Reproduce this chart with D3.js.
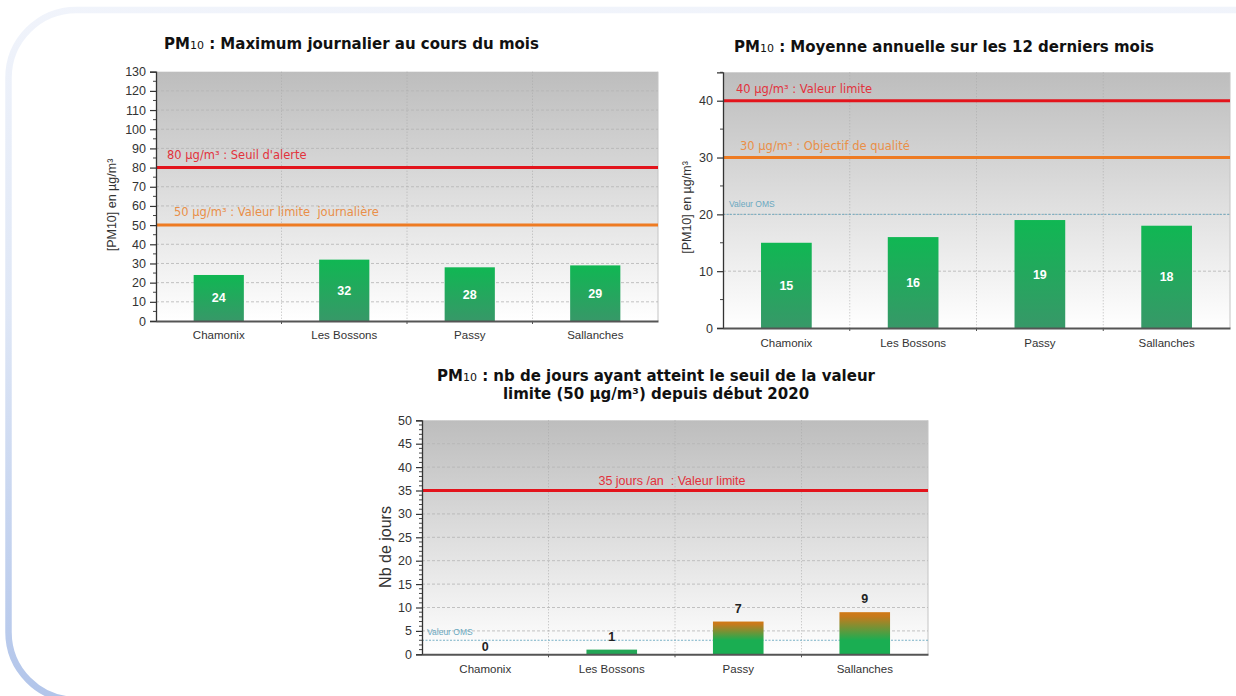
<!DOCTYPE html>
<html>
<head>
<meta charset="utf-8">
<script src="https://cdn.jsdelivr.net/npm/d3@7"></script>
<style>
  body { margin: 0; background: #ffffff; }
  svg { display: block; }
</style>
</head>
<body>
<svg id="board" width="1236" height="696"></svg>
<script>
// ---- data ----
const sites = ["Chamonix", "Les Bossons", "Passy", "Sallanches"];

// Daily maximum over the month (µg/m³)
const dailyMax = [24, 32, 28, 29];
const dailyTicks = d3.range(0, 131, 10);
const dailyRefValues = [80, 50];
const dailyRefLabels = ["80 µg/m³ : Seuil d'alerte", "50 µg/m³ : Valeur limite  journalière"];

// Annual mean over the last 12 months (µg/m³)
const annualMean = [15, 16, 19, 18];
const annualTicks = [0, 10, 20, 30, 40];
const annualRefValues = [40, 30];
const annualRefLabels = ["40 µg/m³ : Valeur limite", "30 µg/m³ : Objectif de qualité"];
const annualWho = 20;

// Days above the daily limit since the start of 2020
const daysOver = [0, 1, 7, 9];
const daysTicks = d3.range(0, 51, 5);
const daysRefValues = [35];
const daysRefLabels = ["35 jours /an  : Valeur limite"];
const daysWho = 3;

const whoLabel = "Valeur OMS";

// ---- drawing ----
const svg = d3.select("#board");
const defs = svg.append("defs");

// rounded frame around the page
const frameGrad = defs.append("linearGradient")
  .attr("id", "frameGrad").attr("gradientUnits", "userSpaceOnUse")
  .attr("x1", 0).attr("y1", 0).attr("x2", 0).attr("y2", 696);
frameGrad.append("stop").attr("offset", 0).attr("stop-color", "#f1f4fb");
frameGrad.append("stop").attr("offset", 0.45).attr("stop-color", "#dfe7f6");
frameGrad.append("stop").attr("offset", 1).attr("stop-color", "#b2c5ea");
svg.append("rect")
  .attr("x", 8.5).attr("y", 10).attr("width", 1320).attr("height", 690)
  .attr("rx", 68).attr("ry", 68)
  .attr("fill", "none").attr("stroke", "url(#frameGrad)").attr("stroke-width", 6.5);

// plot background and bar fills
const bgGrad = defs.append("linearGradient")
  .attr("id", "plotBg").attr("x1", 0).attr("y1", 0).attr("x2", 0).attr("y2", 1);
bgGrad.append("stop").attr("offset", 0).attr("stop-color", "#bdbdbd");
bgGrad.append("stop").attr("offset", 1).attr("stop-color", "#ffffff");

const barGrad = defs.append("linearGradient")
  .attr("id", "barGreen").attr("x1", 0).attr("y1", 0).attr("x2", 0).attr("y2", 1);
barGrad.append("stop").attr("offset", 0).attr("stop-color", "#10b753");
barGrad.append("stop").attr("offset", 1).attr("stop-color", "#379868");

const RED = "#e3141c", ORANGE = "#ee7b22";
const RED_TXT = "#e2323c", ORANGE_TXT = "#e98f48", WHO = "#6aa8bf";
const GREEN = "#1aae52", BROWN = "#d27a16";

function drawTitle(lines, x, y, anchor) {
  lines.forEach((ln, i) => {
    const t = svg.append("text")
      .attr("x", x).attr("y", y + i * 18)
      .attr("text-anchor", anchor)
      .attr("font-family", "DejaVu Sans, Verdana, sans-serif")
      .attr("font-weight", "bold").attr("font-size", 15).attr("fill", "#111");
    if (ln.startsWith("PM10")) {
      t.append("tspan").text("PM");
      t.append("tspan").attr("font-size", 11).attr("font-weight", "normal").text("10");
      t.append("tspan").text(ln.slice(4));
    } else {
      t.text(ln);
    }
  });
}

function drawPanel(cfg) {
  const { left, right, top, bottom } = cfg;
  const g = svg.append("g");
  const x = d3.scaleBand().domain(sites).range([left, right]).paddingInner(0.6).paddingOuter(0.3);
  const y = d3.scaleLinear().domain([0, cfg.yMax]).range([bottom, top]);
  const step = x.step();

  // background
  g.append("rect").attr("x", left).attr("y", top)
    .attr("width", right - left).attr("height", bottom - top)
    .attr("fill", "url(#plotBg)");
  g.append("line").attr("x1", right).attr("x2", right).attr("y1", top).attr("y2", bottom)
    .attr("stroke", "#c4c4c4").attr("stroke-width", 1);

  // horizontal grid
  g.append("g").selectAll("line").data(cfg.ticks.filter(d => d > 0 && d < cfg.yMax)).join("line")
    .attr("x1", left).attr("x2", right)
    .attr("y1", d => y(d)).attr("y2", d => y(d))
    .attr("stroke", "#b4b4b4").attr("stroke-width", 0.8).attr("stroke-dasharray", "3,2");

  // vertical separators between stations
  const seps = d3.range(1, sites.length).map(i => left + i * step);
  g.append("g").selectAll("line").data(seps).join("line")
    .attr("x1", d => d).attr("x2", d => d).attr("y1", top).attr("y2", bottom)
    .attr("stroke", "#a9a9a9").attr("stroke-width", 0.8).attr("stroke-dasharray", "1,2");

  // WHO guideline
  if (cfg.who !== undefined) {
    g.append("line").attr("x1", left).attr("x2", right)
      .attr("y1", y(cfg.who)).attr("y2", y(cfg.who))
      .attr("stroke", WHO).attr("stroke-width", 0.9).attr("stroke-dasharray", "2,1.5");
    g.append("text").attr("x", left + cfg.whoDx).attr("y", y(cfg.who) - cfg.whoDy)
      .attr("font-family", "Liberation Sans, Arial, sans-serif").attr("font-size", 8.5)
      .attr("fill", WHO).text(whoLabel);
  }

  // bars
  const bars = g.append("g");
  cfg.values.forEach((v, i) => {
    let fill = "url(#barGreen)";
    if (cfg.dayStyle) {
      if (v > cfg.who) {
        const id = "dayGrad" + i;
        const gr = defs.append("linearGradient").attr("id", id)
          .attr("gradientUnits", "userSpaceOnUse")
          .attr("x1", 0).attr("x2", 0).attr("y1", y(v)).attr("y2", y(cfg.who));
        gr.append("stop").attr("offset", 0).attr("stop-color", BROWN);
        gr.append("stop").attr("offset", 0.15).attr("stop-color", "#c67a1c");
        gr.append("stop").attr("offset", 1).attr("stop-color", GREEN);
        fill = "url(#" + id + ")";
      } else {
        fill = "#23a656";
      }
    }
    if (v > 0) {
      bars.append("rect")
        .attr("x", x(sites[i])).attr("width", x.bandwidth())
        .attr("y", y(v)).attr("height", y(0) - y(v))
        .attr("fill", fill);
    }
    if (cfg.dayStyle) {
      bars.append("text")
        .attr("x", x(sites[i]) + x.bandwidth() / 2)
        .attr("y", v > 0 ? y(v) - 9 : y(v) - 3)
        .attr("text-anchor", "middle")
        .attr("font-family", "Liberation Sans, Arial, sans-serif")
        .attr("font-weight", "bold").attr("font-size", 12.5).attr("fill", "#222")
        .text(v);
    } else {
      bars.append("text")
        .attr("x", x(sites[i]) + x.bandwidth() / 2)
        .attr("y", (y(v) + y(0)) / 2 + 4.5)
        .attr("text-anchor", "middle")
        .attr("font-family", "Liberation Sans, Arial, sans-serif")
        .attr("font-weight", "bold").attr("font-size", 12.5).attr("fill", "#ffffff")
        .text(v);
    }
  });

  // reference lines
  cfg.refValues.forEach((rv, i) => {
    const col = cfg.refColors[i];
    g.append("line").attr("x1", left).attr("x2", right)
      .attr("y1", y(rv)).attr("y2", y(rv))
      .attr("stroke", col).attr("stroke-width", 3);
    const lab = g.append("text")
      .attr("y", y(rv) - cfg.refDy[i])
      .attr("font-family", cfg.refFont)
      .attr("font-size", cfg.refSize)
      .attr("fill", cfg.refTextColors[i])
      .style("white-space", "pre")
      .text(cfg.refLabels[i]);
    if (cfg.refCentered) lab.attr("x", cfg.refX[i]).attr("text-anchor", "middle");
    else lab.attr("x", left + cfg.refX[i]);
  });

  // y axis
  const minor = d3.range(0, cfg.yMax + 1e-9, cfg.minorStep).filter(d => !cfg.ticks.includes(d));
  g.append("g").selectAll("line").data(minor).join("line")
    .attr("x1", left - 3).attr("x2", left)
    .attr("y1", d => y(d)).attr("y2", d => y(d))
    .attr("stroke", "#444").attr("stroke-width", 1);
  const ya = d3.axisLeft(y).tickValues(cfg.ticks).tickSize(6).tickPadding(4);
  const yg = g.append("g").attr("transform", `translate(${left},0)`).call(ya);
  yg.select(".domain").attr("stroke", "#333").attr("stroke-width", 1.3);
  yg.selectAll(".tick line").attr("stroke", "#333").attr("stroke-width", 1.2);
  yg.selectAll(".tick text")
    .attr("font-family", "Liberation Sans, Arial, sans-serif")
    .attr("font-size", 12.5).attr("fill", "#333");

  // x axis
  const xa = d3.axisBottom(x).tickSize(0).tickPadding(cfg.xPad);
  const xg = g.append("g").attr("transform", `translate(0,${bottom})`).call(xa);
  xg.select(".domain").attr("stroke", "#555").attr("stroke-width", 2);
  xg.selectAll(".tick text")
    .attr("font-family", "Liberation Sans, Arial, sans-serif")
    .attr("font-size", 11.5).attr("fill", "#333");
  g.append("g").selectAll("line").data(seps).join("line")
    .attr("x1", d => d).attr("x2", d => d).attr("y1", bottom).attr("y2", bottom + 3)
    .attr("stroke", "#555").attr("stroke-width", 1);

  // y label
  svg.append("text")
    .attr("transform", `translate(${cfg.yLabelX},${cfg.yLabelY}) rotate(-90)`)
    .attr("text-anchor", "middle")
    .attr("font-family", "Liberation Sans, Arial, sans-serif")
    .attr("font-size", cfg.yLabelSize).attr("fill", "#333")
    .text(cfg.yLabel);
}

drawTitle(["PM10 : Maximum journalier au cours du mois"], 164, 49, "start");
drawPanel({
  left: 156, right: 658, top: 71.7, bottom: 321, yMax: 130,
  ticks: dailyTicks, minorStep: 5, values: dailyMax,
  refValues: dailyRefValues, refLabels: dailyRefLabels,
  refColors: [RED, ORANGE], refTextColors: [RED_TXT, ORANGE_TXT],
  refDy: [8.5, 8.8], refX: [11, 18], refCentered: false,
  refFont: "DejaVu Sans, Verdana, sans-serif", refSize: 11.5,
  xPad: 10, yLabel: "[PM10] en µg/m³", yLabelX: 116, yLabelY: 205, yLabelSize: 12.5
});

drawTitle(["PM10 : Moyenne annuelle sur les 12 derniers mois"], 734, 52, "start");
drawPanel({
  left: 723, right: 1230, top: 72.3, bottom: 328, yMax: 45,
  ticks: annualTicks, minorStep: 5, values: annualMean,
  refValues: annualRefValues, refLabels: annualRefLabels,
  refColors: [RED, ORANGE], refTextColors: [RED_TXT, ORANGE_TXT],
  refDy: [8, 8], refX: [13, 17], refCentered: false,
  refFont: "DejaVu Sans, Verdana, sans-serif", refSize: 11.5,
  who: annualWho, whoDx: 6, whoDy: 7.5,
  xPad: 11, yLabel: "[PM10] en µg/m³", yLabelX: 691, yLabelY: 207.5, yLabelSize: 12.5
});

drawTitle(["PM10 : nb de jours ayant atteint le seuil de la valeur",
           "limite (50 µg/m³) depuis début 2020"], 656, 381, "middle");
drawPanel({
  left: 422, right: 928, top: 420.3, bottom: 654.3, yMax: 50,
  ticks: daysTicks, minorStep: 1, values: daysOver, dayStyle: true,
  refValues: daysRefValues, refLabels: daysRefLabels,
  refColors: [RED], refTextColors: [RED_TXT],
  refDy: [5.5], refX: [672], refCentered: true,
  refFont: "Liberation Sans, Arial, sans-serif", refSize: 12.5,
  who: daysWho, whoDx: 5, whoDy: 5.3,
  xPad: 11, yLabel: "Nb de jours", yLabelX: 391, yLabelY: 547, yLabelSize: 16
});
</script>
</body>
</html>
